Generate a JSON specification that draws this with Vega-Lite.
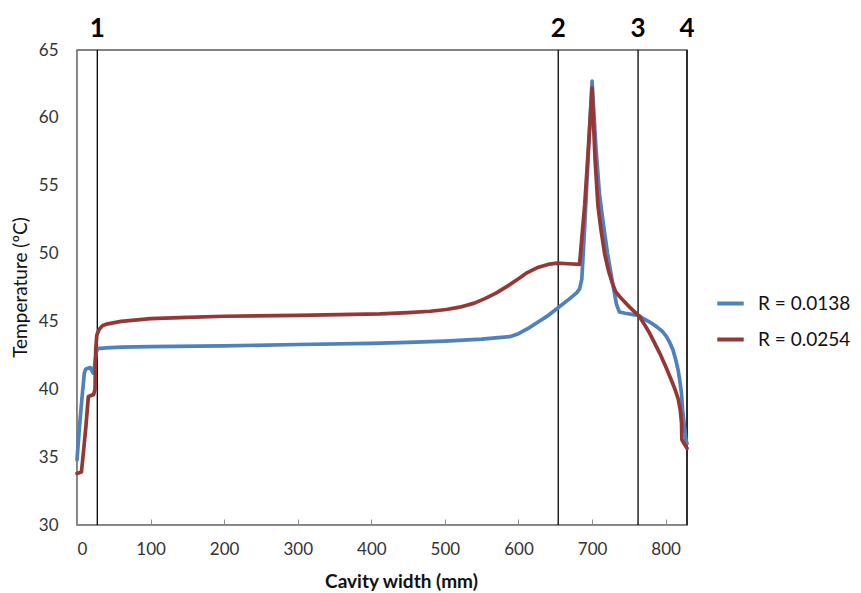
{
  "$schema": "https://vega.github.io/schema/vega-lite/v6.json",
  "autosize": {"type": "none"},
  "width": 610,
  "height": 475,
  "padding": {"left": 77, "top": 50, "right": 174, "bottom": 68},
  "background": "white",
  "config": {
    "font": "Lato",
    "view": {"stroke": "#595959", "strokeWidth": 1.5},
    "axis": {"labelFont": "Lato", "labelFontSize": 17, "labelColor": "#333", "titleFont": "Lato", "titleColor": "#111", "domainColor": "#8c8c8c", "gridColor": "#b5b5b5", "gridWidth": 1.2}
  },
  "datasets": {
    "curves": [
      {"x": 0, "t": 34.8, "s": "R = 0.0138"},
      {"x": 3, "t": 37.0, "s": "R = 0.0138"},
      {"x": 7, "t": 39.5, "s": "R = 0.0138"},
      {"x": 10, "t": 41.2, "s": "R = 0.0138"},
      {"x": 12, "t": 41.5, "s": "R = 0.0138"},
      {"x": 18, "t": 41.6, "s": "R = 0.0138"},
      {"x": 20, "t": 41.4, "s": "R = 0.0138"},
      {"x": 22, "t": 41.2, "s": "R = 0.0138"},
      {"x": 24, "t": 41.8, "s": "R = 0.0138"},
      {"x": 26, "t": 42.7, "s": "R = 0.0138"},
      {"x": 28, "t": 43.0, "s": "R = 0.0138"},
      {"x": 40, "t": 43.05, "s": "R = 0.0138"},
      {"x": 60, "t": 43.1, "s": "R = 0.0138"},
      {"x": 100, "t": 43.15, "s": "R = 0.0138"},
      {"x": 200, "t": 43.2, "s": "R = 0.0138"},
      {"x": 300, "t": 43.3, "s": "R = 0.0138"},
      {"x": 400, "t": 43.38, "s": "R = 0.0138"},
      {"x": 450, "t": 43.45, "s": "R = 0.0138"},
      {"x": 500, "t": 43.55, "s": "R = 0.0138"},
      {"x": 550, "t": 43.7, "s": "R = 0.0138"},
      {"x": 588, "t": 43.88, "s": "R = 0.0138"},
      {"x": 600, "t": 44.1, "s": "R = 0.0138"},
      {"x": 615, "t": 44.55, "s": "R = 0.0138"},
      {"x": 625, "t": 44.9, "s": "R = 0.0138"},
      {"x": 638, "t": 45.35, "s": "R = 0.0138"},
      {"x": 656, "t": 46.1, "s": "R = 0.0138"},
      {"x": 670, "t": 46.7, "s": "R = 0.0138"},
      {"x": 679, "t": 47.1, "s": "R = 0.0138"},
      {"x": 683, "t": 47.4, "s": "R = 0.0138"},
      {"x": 686, "t": 48.1, "s": "R = 0.0138"},
      {"x": 690, "t": 52.0, "s": "R = 0.0138"},
      {"x": 695, "t": 57.5, "s": "R = 0.0138"},
      {"x": 700, "t": 62.7, "s": "R = 0.0138"},
      {"x": 705, "t": 58.0, "s": "R = 0.0138"},
      {"x": 710, "t": 54.4, "s": "R = 0.0138"},
      {"x": 715, "t": 52.3, "s": "R = 0.0138"},
      {"x": 721, "t": 50.0, "s": "R = 0.0138"},
      {"x": 728, "t": 47.8, "s": "R = 0.0138"},
      {"x": 733, "t": 46.3, "s": "R = 0.0138"},
      {"x": 737, "t": 45.7, "s": "R = 0.0138"},
      {"x": 745, "t": 45.6, "s": "R = 0.0138"},
      {"x": 756, "t": 45.5, "s": "R = 0.0138"},
      {"x": 763, "t": 45.45, "s": "R = 0.0138"},
      {"x": 770, "t": 45.2, "s": "R = 0.0138"},
      {"x": 780, "t": 44.9, "s": "R = 0.0138"},
      {"x": 788, "t": 44.6, "s": "R = 0.0138"},
      {"x": 795, "t": 44.3, "s": "R = 0.0138"},
      {"x": 801, "t": 43.9, "s": "R = 0.0138"},
      {"x": 806, "t": 43.4, "s": "R = 0.0138"},
      {"x": 810, "t": 42.9, "s": "R = 0.0138"},
      {"x": 814, "t": 42.1, "s": "R = 0.0138"},
      {"x": 817, "t": 41.4, "s": "R = 0.0138"},
      {"x": 819, "t": 40.7, "s": "R = 0.0138"},
      {"x": 821.5, "t": 39.7, "s": "R = 0.0138"},
      {"x": 823, "t": 38.5, "s": "R = 0.0138"},
      {"x": 825, "t": 37.5, "s": "R = 0.0138"},
      {"x": 827.5, "t": 36.3, "s": "R = 0.0138"},
      {"x": 829, "t": 36.0, "s": "R = 0.0138"},
      {"x": 0, "t": 33.8, "s": "R = 0.0254"},
      {"x": 6, "t": 33.9, "s": "R = 0.0254"},
      {"x": 9, "t": 35.5, "s": "R = 0.0254"},
      {"x": 12, "t": 37.2, "s": "R = 0.0254"},
      {"x": 15.4, "t": 39.45, "s": "R = 0.0254"},
      {"x": 19, "t": 39.55, "s": "R = 0.0254"},
      {"x": 22.5, "t": 39.6, "s": "R = 0.0254"},
      {"x": 24.5, "t": 40.0, "s": "R = 0.0254"},
      {"x": 25.5, "t": 43.0, "s": "R = 0.0254"},
      {"x": 27, "t": 44.0, "s": "R = 0.0254"},
      {"x": 30, "t": 44.4, "s": "R = 0.0254"},
      {"x": 35, "t": 44.7, "s": "R = 0.0254"},
      {"x": 40, "t": 44.8, "s": "R = 0.0254"},
      {"x": 60, "t": 45.0, "s": "R = 0.0254"},
      {"x": 100, "t": 45.2, "s": "R = 0.0254"},
      {"x": 150, "t": 45.3, "s": "R = 0.0254"},
      {"x": 200, "t": 45.38, "s": "R = 0.0254"},
      {"x": 300, "t": 45.45, "s": "R = 0.0254"},
      {"x": 412, "t": 45.55, "s": "R = 0.0254"},
      {"x": 450, "t": 45.65, "s": "R = 0.0254"},
      {"x": 480, "t": 45.75, "s": "R = 0.0254"},
      {"x": 502, "t": 45.88, "s": "R = 0.0254"},
      {"x": 520, "t": 46.05, "s": "R = 0.0254"},
      {"x": 540, "t": 46.35, "s": "R = 0.0254"},
      {"x": 555, "t": 46.7, "s": "R = 0.0254"},
      {"x": 570, "t": 47.1, "s": "R = 0.0254"},
      {"x": 585, "t": 47.6, "s": "R = 0.0254"},
      {"x": 600, "t": 48.15, "s": "R = 0.0254"},
      {"x": 612, "t": 48.6, "s": "R = 0.0254"},
      {"x": 625, "t": 48.95, "s": "R = 0.0254"},
      {"x": 640, "t": 49.2, "s": "R = 0.0254"},
      {"x": 652, "t": 49.3, "s": "R = 0.0254"},
      {"x": 668, "t": 49.25, "s": "R = 0.0254"},
      {"x": 683, "t": 49.2, "s": "R = 0.0254"},
      {"x": 685, "t": 50.5, "s": "R = 0.0254"},
      {"x": 690, "t": 53.6, "s": "R = 0.0254"},
      {"x": 695, "t": 57.8, "s": "R = 0.0254"},
      {"x": 700, "t": 62.2, "s": "R = 0.0254"},
      {"x": 704, "t": 57.0, "s": "R = 0.0254"},
      {"x": 708, "t": 53.5, "s": "R = 0.0254"},
      {"x": 712, "t": 51.8, "s": "R = 0.0254"},
      {"x": 717, "t": 50.0, "s": "R = 0.0254"},
      {"x": 722, "t": 48.8, "s": "R = 0.0254"},
      {"x": 727, "t": 47.9, "s": "R = 0.0254"},
      {"x": 732, "t": 47.2, "s": "R = 0.0254"},
      {"x": 738, "t": 46.8, "s": "R = 0.0254"},
      {"x": 745, "t": 46.4, "s": "R = 0.0254"},
      {"x": 752, "t": 46.0, "s": "R = 0.0254"},
      {"x": 760, "t": 45.6, "s": "R = 0.0254"},
      {"x": 765, "t": 45.3, "s": "R = 0.0254"},
      {"x": 772, "t": 44.7, "s": "R = 0.0254"},
      {"x": 778.5, "t": 44.1, "s": "R = 0.0254"},
      {"x": 785, "t": 43.4, "s": "R = 0.0254"},
      {"x": 792, "t": 42.65, "s": "R = 0.0254"},
      {"x": 799, "t": 41.8, "s": "R = 0.0254"},
      {"x": 806, "t": 40.9, "s": "R = 0.0254"},
      {"x": 812, "t": 40.1, "s": "R = 0.0254"},
      {"x": 817, "t": 39.3, "s": "R = 0.0254"},
      {"x": 820, "t": 38.4, "s": "R = 0.0254"},
      {"x": 821.6, "t": 37.5, "s": "R = 0.0254"},
      {"x": 822, "t": 36.3, "s": "R = 0.0254"},
      {"x": 825, "t": 36.0, "s": "R = 0.0254"},
      {"x": 829, "t": 35.65, "s": "R = 0.0254"}
    ],
    "markers": [
      {"x": 27.6, "label": "1"},
      {"x": 654, "label": "2"},
      {"x": 762.5, "label": "3"},
      {"x": 829, "label": "4"}
    ]
  },
  "layer": [
    {
      "data": {"name": "markers"},
      "mark": {"type": "rule", "color": "#000", "strokeWidth": 1.3},
      "encoding": {
        "x": {"field": "x", "type": "quantitative"}
      }
    },
    {
      "data": {"name": "markers"},
      "mark": {"type": "text", "font": "Lato", "fontWeight": "bold", "fontSize": 26, "color": "#000", "baseline": "alphabetic", "dy": -13, "align": "center"},
      "encoding": {
        "x": {"field": "x", "type": "quantitative"},
        "y": {"datum": 65},
        "text": {"field": "label"}
      }
    },
    {
      "data": {"name": "curves"},
      "mark": {"type": "line", "strokeWidth": 3.7, "strokeJoin": "round", "strokeCap": "round"},
      "encoding": {
        "x": {
          "field": "x", "type": "quantitative",
          "scale": {"domain": [0, 829], "nice": false, "zero": false},
          "axis": {"values": [0, 100, 200, 300, 400, 500, 600, 700, 800], "grid": false, "title": "Cavity width (mm)", "titleFontSize": 19, "titleFontWeight": "bold", "titleY": 62, "titleBaseline": "alphabetic", "titleX": 324, "tickSize": -6, "tickColor": "#8c8c8c", "labelPadding": 22}
        },
        "y": {
          "field": "t", "type": "quantitative",
          "scale": {"domain": [30, 65], "nice": false, "zero": false},
          "axis": {"values": [30, 35, 40, 45, 50, 55, 60, 65], "ticks": false, "labelPadding": 19, "title": "Temperature (ºC)", "titleFontSize": 19, "titleFontWeight": "normal", "titleX": -66, "titleY": 237, "titleBaseline": "top", "titleAlign": "center", "titleAngle": -90}
        },
        "color": {
          "field": "s", "type": "nominal",
          "scale": {"domain": ["R = 0.0138", "R = 0.0254"], "range": ["#4f81bd", "#953735"]},
          "legend": {"orient": "none", "legendX": 638, "legendY": 238, "title": null, "symbolType": "stroke", "symbolSize": 700, "symbolStrokeWidth": 4, "labelFontSize": 19, "labelFont": "Lato", "labelColor": "#111", "rowPadding": 10, "labelOffset": 12, "padding": 0}
        }
      }
    }
  ]
}
